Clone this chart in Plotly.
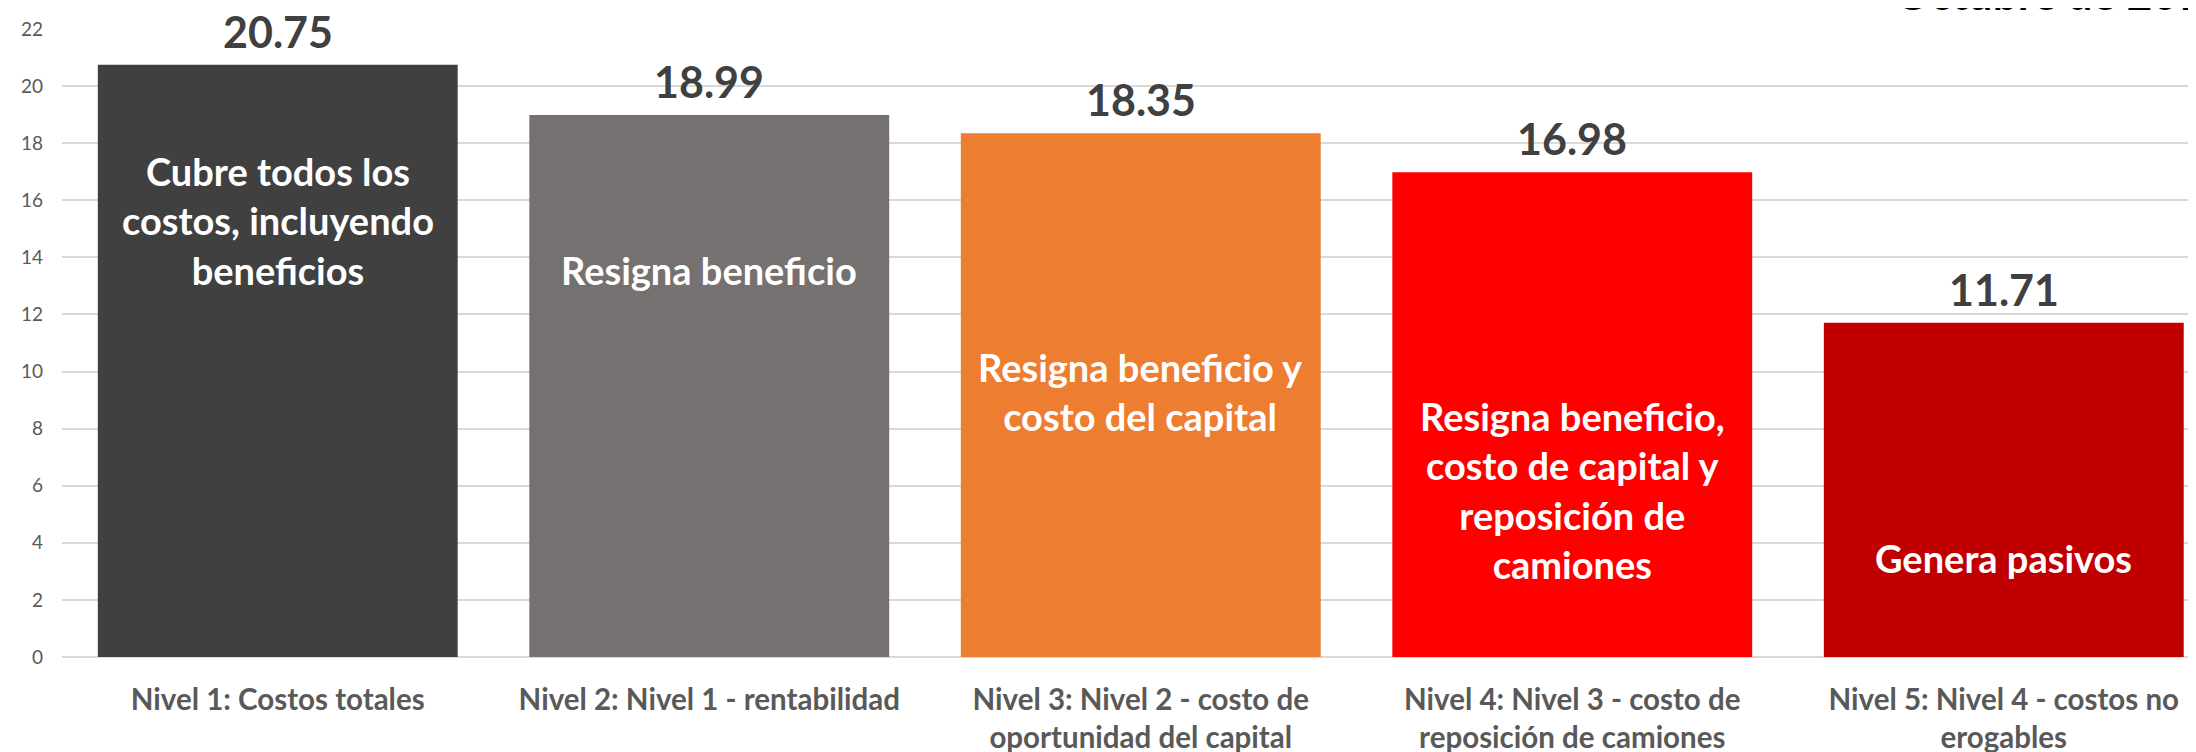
import plotly.graph_objects as go

categories = [
    "Nivel 1: Costos totales",
    "Nivel 2: Nivel 1 - rentabilidad",
    "Nivel 3: Nivel 2 - costo de<br>oportunidad del capital",
    "Nivel 4: Nivel 3 - costo de<br>reposición de camiones",
    "Nivel 5: Nivel 4 - costos no<br>erogables",
]
values = [20.75, 18.99, 18.35, 16.98, 11.71]
value_labels = ["20.75", "18.99", "18.35", "16.98", "11.71"]
inner_texts = [
    "Cubre todos los<br>costos, incluyendo<br>beneficios",
    "Resigna beneficio",
    "Resigna beneficio y<br>costo del capital",
    "Resigna beneficio,<br>costo de capital y<br>reposición de<br>camiones",
    "Genera pasivos",
]
y_ticks = [0, 2, 4, 6, 8, 10, 12, 14, 16, 18, 20, 22]
title_text = "Octubre de 2019"

# styling
colors = ["#404040", "#767171", "#ED7D31", "#FF0000", "#C00000"]
inner_text_y = [15.3, 13.55, 9.3, 5.85, 3.47]

W, H = 2196, 752
ML, MR, MT, MB = 54, 0, 21, 103

x_idx = list(range(len(categories)))
tick_text = ["<b>" + "</b><br><b>".join(c.split("<br>")) + "</b>" for c in categories]

fig = go.Figure()
fig.add_trace(go.Bar(
    x=x_idx, y=values,
    marker=dict(color=colors, line=dict(width=0)),
    hoverinfo="skip",
))

for i, v in enumerate(values):
    fig.add_annotation(
        x=i, y=v, xref="x", yref="y", text=value_labels[i],
        showarrow=False, yanchor="bottom", yshift=6,
        font=dict(family="Lato", size=43, color="#404040", weight="bold"),
    )
    fig.add_annotation(
        x=i, y=inner_text_y[i], xref="x", yref="y", text=inner_texts[i],
        showarrow=False, yanchor="middle",
        font=dict(family="Lato", size=38, color="#FFFFFF", weight="bold"),
    )

fig.add_annotation(
    x=(1885 - ML) / (W - ML - MR), xref="paper", y=1.0, yref="paper",
    text="<b>" + title_text + "</b>",
    showarrow=False, xanchor="left", yanchor="bottom", yshift=8,
    font=dict(family="Lato", size=44, color="#000000"),
)

fig.update_layout(
    width=W, height=H,
    margin=dict(l=ML, r=MR, t=MT, b=MB, pad=0, autoexpand=False),
    paper_bgcolor="white", plot_bgcolor="white",
    bargap=0.166,
    showlegend=False,
    xaxis=dict(
        tickmode="array", tickvals=x_idx, ticktext=tick_text,
        range=[-0.5, 4.464], showgrid=False, zeroline=False, showline=False,
        ticks="", ticklabelstandoff=22, automargin=False,
        tickfont=dict(family="Lato", size=29.5, color="#595959", weight="bold"),
    ),
    yaxis=dict(
        range=[0, 22], tickmode="array", tickvals=y_ticks,
        showgrid=True, gridcolor="#D9D9D9", gridwidth=1.5,
        zeroline=True, zerolinecolor="#D9D9D9", zerolinewidth=2,
        showline=False, ticks="", ticklabelstandoff=18, automargin=False,
        tickfont=dict(family="Lato", size=19, color="#595959"),
    ),
)

fig.write_html("out.html")
